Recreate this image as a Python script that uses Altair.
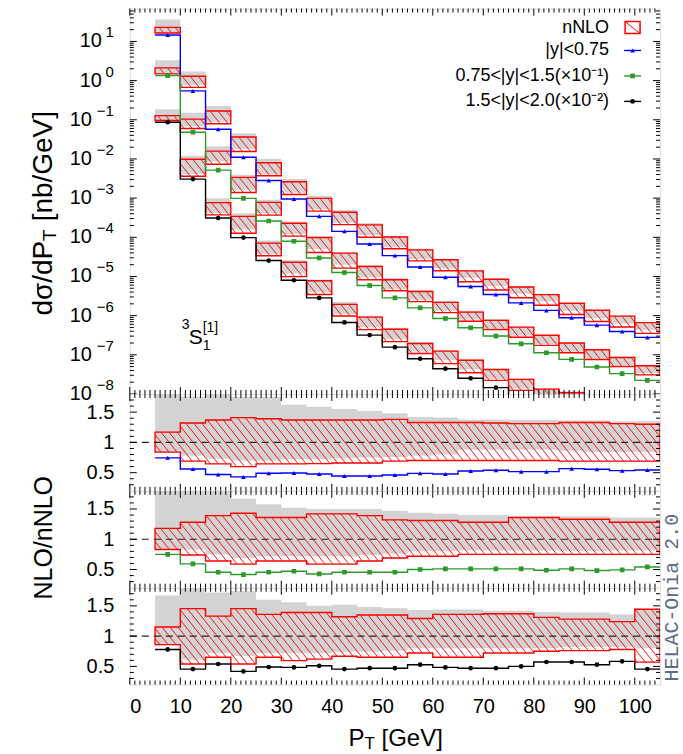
import altair as alt
import numpy as np
import pandas as pd

FONT = "Liberation Sans"

# ---------------- data ----------------
bin_lo = list(range(5, 105, 5))
BIN_W = 5
x_label_values = list(range(0, 101, 10))
top_exps = list(range(-8, 2))          # decades labelled on the top panel
ratio_label_values = [0.5, 1.0, 1.5]

series = ["|y|<0.75", "0.75<|y|<1.5(×10⁻¹)", "1.5<|y|<2.0(×10⁻²)"]
colors = ["#0000ff", "#2b9a2b", "#000000"]
shapes = ["triangle-up", "square", "circle"]

# NLO prediction shown in the top panel (already multiplied by the factor in the legend)
nlo_1 = [14.6, 0.546, 0.0575, 0.0111, 2.83e-3, 9.46e-4, 3.43e-4, 1.42e-4, 6.76e-5, 3.41e-5,
         1.75e-5, 9.57e-6, 5.53e-6, 3.47e-6, 2.12e-6, 1.36e-6, 8.81e-7, 5.73e-7, 3.95e-7, 2.78e-7]
nlo_2 = [1.34, 0.0482, 5.19e-3, 9.86e-4, 2.61e-4, 7.91e-5, 2.97e-5, 1.26e-5, 5.87e-6, 2.84e-6,
         1.58e-6, 8.47e-7, 4.90e-7, 3.01e-7, 1.91e-7, 1.13e-7, 7.66e-8, 4.88e-8, 3.30e-8, 2.23e-8]
nlo_3 = [0.0867, 3.06e-3, 3.11e-4, 9.82e-5, 2.55e-5, 8.02e-6, 2.84e-6, 6.70e-7, 3.18e-7, 1.57e-7,
         7.94e-8, 4.42e-8, 2.51e-8, 1.45e-8, 8.6e-9, 5.8e-9, 4.8e-9, 3.5e-9, 2.6e-9, 1.6e-9]

# NLO / nNLO ratio (lower panels)
ratio_1 = [0.745, 0.56, 0.47, 0.43, 0.49, 0.495, 0.478, 0.445, 0.445, 0.461,
           0.489, 0.478, 0.528, 0.539, 0.517, 0.517, 0.567, 0.556, 0.533, 0.544]
ratio_2 = [0.75, 0.593, 0.455, 0.417, 0.455, 0.472, 0.427, 0.455, 0.455, 0.455,
           0.50, 0.51, 0.51, 0.51, 0.51, 0.488, 0.51, 0.483, 0.494, 0.543]
ratio_3 = [0.78, 0.455, 0.54, 0.417, 0.49, 0.483, 0.51, 0.455, 0.47, 0.47,
           0.528, 0.483, 0.47, 0.47, 0.50, 0.572, 0.572, 0.528, 0.583, 0.455]

# nNLO uncertainty band relative to nNLO central
nnlo_hi_1 = [1.17, 1.32, 1.37, 1.41, 1.39, 1.37, 1.37, 1.37, 1.37, 1.38,
             1.33, 1.33, 1.33, 1.32, 1.31, 1.31, 1.33, 1.33, 1.31, 1.30]
nnlo_lo_1 = [0.84, 0.69, 0.645, 0.60, 0.645, 0.645, 0.65, 0.66, 0.66, 0.69,
             0.70, 0.70, 0.70, 0.70, 0.70, 0.70, 0.69, 0.69, 0.69, 0.69]
nnlo_hi_2 = [1.18, 1.28, 1.39, 1.43, 1.36, 1.36, 1.42, 1.42, 1.39, 1.32,
             1.31, 1.31, 1.28, 1.28, 1.36, 1.36, 1.33, 1.33, 1.28, 1.28]
nnlo_lo_2 = [0.83, 0.74, 0.64, 0.59, 0.64, 0.64, 0.59, 0.59, 0.64, 0.69,
             0.72, 0.72, 0.75, 0.75, 0.75, 0.75, 0.75, 0.75, 0.75, 0.75]
nnlo_hi_3 = [1.15, 1.455, 1.33, 1.455, 1.36, 1.39, 1.39, 1.32, 1.35, 1.35,
             1.29, 1.36, 1.36, 1.37, 1.37, 1.31, 1.28, 1.28, 1.24, 1.445]
nnlo_lo_3 = [0.86, 0.54, 0.65, 0.54, 0.65, 0.595, 0.62, 0.667, 0.65, 0.65,
             0.72, 0.65, 0.65, 0.72, 0.72, 0.75, 0.76, 0.76, 0.78, 0.57]

# grey band relative to nNLO central
gray_hi_1 = [1.85, 1.76, 1.85, 1.75, 1.75, 1.62, 1.59, 1.55, 1.52, 1.48,
             1.42, 1.41, 1.38, 1.38, 1.37, 1.37, 1.36, 1.36, 1.35, 1.35]
gray_lo_1 = [0.84, 0.78, 0.73, 0.70, 0.70, 0.72, 0.72, 0.74, 0.75, 0.76,
             0.78, 0.80, 0.88, 0.88, 0.88, 0.88, 0.86, 0.84, 0.84, 0.84]
gray_hi_2 = [1.85, 1.85, 1.85, 1.67, 1.58, 1.52, 1.50, 1.50, 1.50, 1.47,
             1.44, 1.42, 1.40, 1.40, 1.38, 1.38, 1.38, 1.38, 1.36, 1.36]
gray_lo_2 = [0.83, 0.83, 0.75, 0.69, 0.72, 0.72, 0.72, 0.72, 0.74, 0.76,
             0.80, 0.80, 0.82, 0.82, 0.82, 0.82, 0.80, 0.80, 0.82, 0.82]
gray_hi_3 = [1.67, 1.80, 1.72, 1.74, 1.60, 1.56, 1.50, 1.52, 1.48, 1.46,
             1.43, 1.44, 1.44, 1.42, 1.42, 1.40, 1.39, 1.39, 1.36, 1.44]
gray_lo_3 = [0.86, 0.61, 0.72, 0.67, 0.72, 0.72, 0.72, 0.74, 0.74, 0.76,
             0.80, 0.80, 0.80, 0.80, 0.80, 0.80, 0.82, 0.82, 0.82, 0.80]

nlo = [nlo_1, nlo_2, nlo_3]
ratio = [ratio_1, ratio_2, ratio_3]
nnlo_hi = [nnlo_hi_1, nnlo_hi_2, nnlo_hi_3]
nnlo_lo = [nnlo_lo_1, nnlo_lo_2, nnlo_lo_3]
gray_hi = [gray_hi_1, gray_hi_2, gray_hi_3]
gray_lo = [gray_lo_1, gray_lo_2, gray_lo_3]

legend_labels = ["nNLO"] + series

# ---------------- geometry / style ----------------
W = 531
H_TOP = 386
H_R = 97
X_MAX = 105.0
LOG_MIN, LOG_MAX = -8.0, 1.84
R_MIN, R_MAX = 0.2, 1.8
PX_X = W / X_MAX
PX_DEC = H_TOP / (LOG_MAX - LOG_MIN)
PX_R = H_R / (R_MAX - R_MIN)
HATCH_DX = 8.0
HATCH_SLOPE = 1.25
RED = "#ff0000"
GREY = "#d3d3d3"

xs = alt.Scale(domain=[0, X_MAX], nice=False, zero=False)
ys_top = alt.Scale(type="log", domain=[10 ** LOG_MIN, 10 ** LOG_MAX], nice=False)
ys_r = alt.Scale(domain=[R_MIN, R_MAX], nice=False, zero=False)

ax_r_y = alt.Axis(values=ratio_label_values, format="~g", ticks=False, domain=False, grid=False,
                  labelFontSize=20, labelPadding=16, title=None, labelFont=FONT, labelColor="black")
ax_x_bottom = alt.Axis(values=x_label_values, ticks=False, domain=False, grid=False,
                       labelFontSize=20, labelPadding=12, title=None, labelFont=FONT, labelColor="black")


def hatch(x0, x1, v0, v1, fwd, inv):
    X0, X1 = x0 * PX_X, x1 * PX_X
    Y0, Y1 = fwd(v0), fwd(v1)
    s = HATCH_SLOPE
    out = []
    step = s * HATCH_DX
    kmin = int(np.floor((Y0 + s * X0) / step))
    kmax = int(np.ceil((Y1 + s * X1) / step))
    for k in range(kmin, kmax + 1):
        c = step * k
        xa = max(X0, (c - Y1) / s)
        xb = min(X1, (c - Y0) / s)
        if xb - xa > 0.4:
            out.append(dict(hx0=xa / PX_X, hy0=inv(c - s * xa), hx1=xb / PX_X, hy1=inv(c - s * xb)))
    return out


log_fwd = lambda v: np.log10(v) * PX_DEC
log_inv = lambda Y: 10 ** (Y / PX_DEC)
lin_fwd = lambda v: v * PX_R
lin_inv = lambda Y: Y / PX_R


def tick_layers(H, yscale, yaxis, xaxis, ymajor, yminor, xmajor, xminor):
    layers = []
    for vals, ln in ((xmajor, 7), (xminor, 4)):
        d = pd.DataFrame({"t": vals})
        for y0, y1 in ((0, ln), (H, H - ln)):
            layers.append(alt.Chart(d).mark_rule(color="black", strokeWidth=1).encode(
                x=alt.X("t:Q", scale=xs, axis=xaxis), y=alt.value(y0), y2=alt.value(y1)))
    for vals, ln in ((ymajor, 7), (yminor, 4)):
        d = pd.DataFrame({"t": vals})
        for x0, x1 in ((0, ln), (W, W - ln)):
            layers.append(alt.Chart(d).mark_rule(color="black", strokeWidth=1).encode(
                y=alt.Y("t:Q", scale=yscale, axis=yaxis), x=alt.value(x0), x2=alt.value(x1)))
    return layers


x_major = list(range(0, 106, 10))
x_minor = [v for v in range(1, 105) if v % 10]
top_major = [10.0 ** e for e in top_exps]
top_minor = [m * 10.0 ** e for e in top_exps for m in range(2, 10) if m * 10.0 ** e < 10 ** LOG_MAX]
r_major = [0.5, 1.0, 1.5]
r_minor = [round(v, 2) for v in np.arange(0.3, 1.75, 0.1) if abs(v * 2 - round(v * 2)) > 1e-6]

color_scale = alt.Scale(domain=series, range=colors)
shape_scale = alt.Scale(domain=series, range=shapes)
one = pd.DataFrame({"a": [0]})

# character widths (em) used to chain text pieces with sub/superscripts
CW = {"d": .556, "σ": .60, "/": .278, "P": .667, "T": .611, " ": .278, "[": .278, "n": .556,
      "b": .556, "G": .778, "e": .556, "V": .667, "]": .278}
tw = lambda s, fs: sum(CW.get(ch, .556) for ch in s) * fs

# ---------------- top panel ----------------
box_rows, line_rows, pt_rows, hatch_rows = [], [], [], []
for i, name in enumerate(series):
    for j, x0 in enumerate(bin_lo):
        cen = nlo[i][j] / ratio[i][j]
        lo, hi = cen * nnlo_lo[i][j], cen * nnlo_hi[i][j]
        box_rows.append(dict(s=name, x0=x0, x1=x0 + BIN_W, lo=lo, hi=hi,
                             glo=cen * gray_lo[i][j], ghi=cen * gray_hi[i][j]))
        hatch_rows += hatch(x0, x0 + BIN_W, lo, hi, log_fwd, log_inv)
        line_rows.append(dict(s=name, x=x0, v=nlo[i][j]))
        pt_rows.append(dict(s=name, x=x0 + BIN_W / 2, v=nlo[i][j]))
    line_rows.append(dict(s=name, x=X_MAX, v=nlo[i][-1]))

df_box = pd.DataFrame(box_rows)
df_line = pd.DataFrame(line_rows)
df_pt = pd.DataFrame(pt_rows)
df_hatch = pd.DataFrame(hatch_rows)

XT = lambda f: alt.X(f, scale=xs, axis=None)
YT = lambda f: alt.Y(f, scale=ys_top, axis=None)

top_layers = [
    alt.Chart(df_box).mark_rect(color=GREY, clip=True).encode(
        x=XT("x0:Q"), x2="x1", y=YT("glo:Q"), y2="ghi"),
    alt.Chart(df_hatch).mark_rule(color=RED, strokeWidth=1, opacity=0.9, clip=True).encode(
        x=XT("hx0:Q"), x2="hx1", y=YT("hy0:Q"), y2="hy1"),
    alt.Chart(df_box).mark_rect(fillOpacity=0, stroke=RED, strokeWidth=1.4, clip=True).encode(
        x=XT("x0:Q"), x2="x1", y=YT("lo:Q"), y2="hi"),
    alt.Chart(df_line).mark_line(interpolate="step-after", strokeWidth=1.4, clip=True).encode(
        x=XT("x:Q"), y=YT("v:Q"),
        color=alt.Color("s:N", scale=color_scale, legend=None), detail="s:N"),
    alt.Chart(df_pt).mark_point(filled=True, size=22, opacity=1, clip=True).encode(
        x=XT("x:Q"), y=YT("v:Q"),
        color=alt.Color("s:N", scale=color_scale, legend=None),
        shape=alt.Shape("s:N", scale=shape_scale, legend=None)),
]
top_layers += tick_layers(H_TOP, ys_top, None, None, top_major, top_minor, x_major, x_minor)

# y tick labels of the log axis: "10" + raised exponent
df_lab = pd.DataFrame({"v": [10.0 ** e for e in top_exps],
                       "et": [str(e).replace("-", "−") for e in top_exps],
                       "neg": [e < 0 for e in top_exps]})
top_layers.append(alt.Chart(df_lab).transform_filter("!datum.neg").mark_text(
    align="right", baseline="middle", fontSize=20, font=FONT, color="black", text="10").encode(
    x=alt.value(-28), y=YT("v:Q")))
top_layers.append(alt.Chart(df_lab).transform_filter("datum.neg").mark_text(
    align="right", baseline="middle", fontSize=20, font=FONT, color="black", text="10").encode(
    x=alt.value(-38), y=YT("v:Q")))
top_layers.append(alt.Chart(df_lab).mark_text(
    align="right", baseline="middle", fontSize=15, font=FONT, color="black", dy=-9).encode(
    x=alt.value(-16), y=YT("v:Q"), text="et:N"))

# legend (manual, inside the plot)
LEG_Y = [19, 42, 67.5, 93]
LEG_TX = 480
LEG_S0, LEG_S1 = 495, 512
for k, lab in enumerate(legend_labels):
    top_layers.append(alt.Chart(one).mark_text(align="right", baseline="middle", fontSize=18,
                                              font=FONT, color="black", text=lab).encode(
        x=alt.value(LEG_TX), y=alt.value(LEG_Y[k])))
top_layers.append(alt.Chart(one).mark_rect(fillOpacity=0, stroke=RED, strokeWidth=1.5).encode(
    x=alt.value(LEG_S0 + 1), x2=alt.value(LEG_S1 - 1), y=alt.value(LEG_Y[0] - 6), y2=alt.value(LEG_Y[0] + 6)))
top_layers.append(alt.Chart(one).mark_rule(color=RED, strokeWidth=1).encode(
    x=alt.value(LEG_S0 + 1), x2=alt.value(LEG_S1 - 1), y=alt.value(LEG_Y[0] - 6), y2=alt.value(LEG_Y[0] + 6)))
for i in range(3):
    top_layers.append(alt.Chart(one).mark_rule(color=colors[i], strokeWidth=1.4).encode(
        x=alt.value(LEG_S0), x2=alt.value(LEG_S1), y=alt.value(LEG_Y[i + 1]), y2=alt.value(LEG_Y[i + 1])))
    top_layers.append(alt.Chart(one).mark_point(filled=True, size=22, shape=shapes[i], color=colors[i],
                                                opacity=1).encode(
        x=alt.value((LEG_S0 + LEG_S1) / 2), y=alt.value(LEG_Y[i + 1])))

# 3S1[1] label
for txt, fs, xx, yy in (("3", 14, 52, 321), ("S", 21, 59, 336), ("1", 14, 73, 342), ("[1]", 14, 73, 324)):
    top_layers.append(alt.Chart(one).mark_text(align="left", baseline="alphabetic", fontSize=fs,
                                              font=FONT, color="black", text=txt).encode(
        x=alt.value(xx), y=alt.value(yy)))

# y title of top panel: d sigma / dP_T [nb/GeV]
TFS = 28
pieces = (("dσ/dP", TFS, 0, 0.0), ("T", 19, 6, 0.0), ("[nb/GeV]", TFS, 0, 0.3 * TFS))
total = sum(tw(t, f) + gap for t, f, _, gap in pieces)
ty = 205 + total / 2
tx = -86
for txt, fs, dx, gap in pieces:
    ty -= gap
    top_layers.append(alt.Chart(one).mark_text(align="left", baseline="middle", angle=270, fontSize=fs,
                                              font=FONT, color="black", text=txt).encode(
        x=alt.value(tx + dx), y=alt.value(ty)))
    ty -= tw(txt, fs)

top = alt.layer(*top_layers).properties(width=W, height=H_TOP)


# ---------------- ratio panels ----------------
def ratio_panel(i, bottom=False):
    xaxis = ax_x_bottom if bottom else None
    XR = lambda f: alt.X(f, scale=xs, axis=xaxis)
    YR = lambda f: alt.Y(f, scale=ys_r, axis=ax_r_y)
    d = pd.DataFrame({"x": bin_lo + [X_MAX],
                      "lo": nnlo_lo[i] + [nnlo_lo[i][-1]], "hi": nnlo_hi[i] + [nnlo_hi[i][-1]],
                      "glo": gray_lo[i] + [gray_lo[i][-1]], "ghi": gray_hi[i] + [gray_hi[i][-1]],
                      "r": ratio[i] + [ratio[i][-1]]})
    dp = pd.DataFrame({"x": [b + BIN_W / 2 for b in bin_lo], "r": ratio[i]})
    hr = []
    for j, x0 in enumerate(bin_lo):
        hr += hatch(x0, x0 + BIN_W, nnlo_lo[i][j], nnlo_hi[i][j], lin_fwd, lin_inv)
    dh = pd.DataFrame(hr)
    layers = [
        alt.Chart(d).mark_area(interpolate="step-after", color=GREY, clip=True).encode(
            x=XR("x:Q"), y=YR("glo:Q"), y2="ghi"),
        alt.Chart(dh).mark_rule(color=RED, strokeWidth=1, opacity=0.9, clip=True).encode(
            x=XR("hx0:Q"), x2="hx1", y=YR("hy0:Q"), y2="hy1"),
        alt.Chart(d).mark_area(interpolate="step-after", fillOpacity=0, stroke=RED, strokeWidth=1.4,
                               clip=True).encode(x=XR("x:Q"), y=YR("lo:Q"), y2="hi"),
        alt.Chart(one).mark_rule(color="#222222", strokeWidth=1.2, strokeDash=[7, 5]).encode(
            y=alt.Y(datum=1.0, scale=ys_r, axis=ax_r_y), x=alt.value(0), x2=alt.value(W)),
        alt.Chart(d).mark_line(interpolate="step-after", color=colors[i], strokeWidth=1.4, clip=True).encode(
            x=XR("x:Q"), y=YR("r:Q")),
        alt.Chart(dp).mark_point(filled=True, size=22, shape=shapes[i], color=colors[i], opacity=1,
                                 clip=True).encode(x=XR("x:Q"), y=YR("r:Q")),
    ]
    layers += tick_layers(H_R, ys_r, ax_r_y, xaxis, r_major, r_minor, x_major, x_minor)
    if i == 1:
        layers.append(alt.Chart(one).mark_text(align="center", baseline="middle", angle=270, fontSize=25,
                                               font=FONT, color="black", text="NLO/nNLO").encode(
            x=alt.value(-86), y=alt.value(47)))
        layers.append(alt.Chart(one).mark_text(align="center", baseline="middle", angle=270, fontSize=20,
                                               font="Liberation Mono", color="#5d6c86",
                                               text="HELAC-Onia 2.0").encode(
            x=alt.value(W + 12), y=alt.value(107)))
    if bottom:
        px = 219
        for txt, fs, dy, gap in (("P", 24, 0, 0.0), ("T", 17, 3, 0.0), ("[GeV]", 24, 0, 0.28 * 24)):
            px += gap
            layers.append(alt.Chart(one).mark_text(align="left", baseline="alphabetic", fontSize=fs,
                                                   font=FONT, color="black", text=txt).encode(
                x=alt.value(px), y=alt.value(159 + dy)))
            px += tw(txt, fs)
    return alt.layer(*layers).properties(width=W, height=H_R)


chart = alt.vconcat(top, ratio_panel(0), ratio_panel(1), ratio_panel(2, bottom=True),
                    spacing=0, bounds="flush").properties(
    padding={"left": 29, "top": 7, "right": 0, "bottom": 0}, background="white"
).configure_view(stroke="black", strokeWidth=2).configure(font=FONT)

chart.save("out.html", embed_options={"renderer": "svg", "actions": False})
